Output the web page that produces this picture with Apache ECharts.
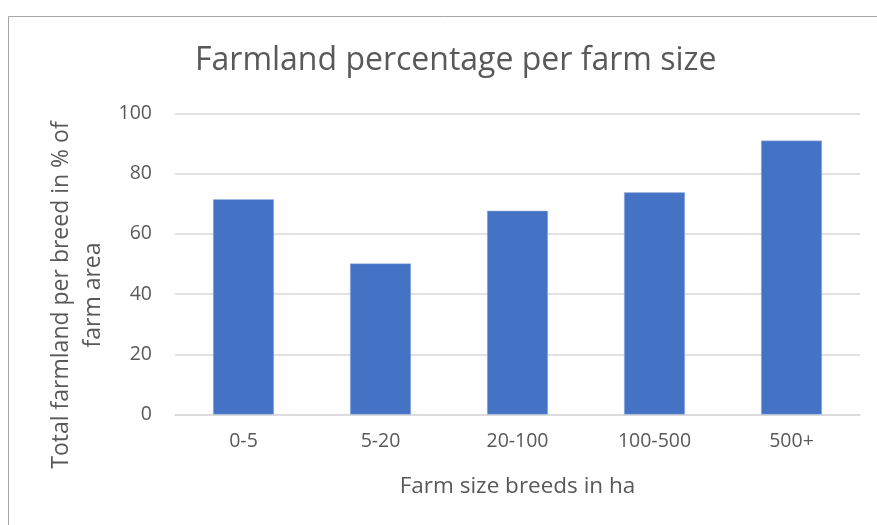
<!DOCTYPE html>
<html><head><meta charset="utf-8">
<script src="https://cdn.jsdelivr.net/npm/echarts@6/dist/echarts.min.js"></script>
<style>html,body{margin:0;padding:0;background:#fff}#c{width:877px;height:525px}</style>
</head><body><div id="c"></div>
<script>
const categories = ['0-5', '5-20', '20-100', '100-500', '500+'];
const values = [71.5, 50.2, 67.7, 73.8, 91.0];
const yTicks = [0, 20, 40, 60, 80, 100];
const titleText = 'Farmland percentage per farm size';
const xName = 'Farm size breeds in ha';
const yName = 'Total farmland per breed in % of\nfarm area';

const FONT = 'Open Sans';
const chart = echarts.init(document.getElementById('c'));
chart.setOption({
  backgroundColor: '#fff',
  animation: false,
  graphic: [{
    type: 'rect', left: 6, top: 14,
    shape: { width: 900, height: 600 },
    style: { fill: 'none', stroke: '#a6a6a6', lineWidth: 1 }
  }, {
    type: 'text', x: 77, y: 295, rotation: Math.PI / 2,
    style: {
      text: yName, textAlign: 'center', textVerticalAlign: 'middle',
      fontFamily: FONT, fontSize: 23, lineHeight: 32, fill: '#595959'
    }
  }],
  title: {
    text: titleText, left: 190, top: 40,
    textStyle: { fontFamily: FONT, fontSize: 32, fontWeight: 'normal', color: '#595959' }
  },
  grid: { left: 175, right: 17, top: 113.5, bottom: 110.5 },
  xAxis: {
    type: 'category', data: categories,
    axisLine: { lineStyle: { color: '#d9d9d9', width: 1.5 } },
    axisTick: { show: false },
    axisLabel: { fontFamily: FONT, fontSize: 19.5, color: '#595959', margin: 17 },
    name: xName, nameLocation: 'middle', nameGap: 61,
    nameTextStyle: { fontFamily: FONT, fontSize: 22.5, color: '#595959' }
  },
  yAxis: {
    type: 'value', min: yTicks[0], max: yTicks[yTicks.length - 1], interval: 20,
    axisLine: { show: false }, axisTick: { show: false },
    splitLine: { lineStyle: { color: '#d9d9d9', width: 1.5 } },
    axisLabel: { fontFamily: FONT, fontSize: 19.5, color: '#595959', margin: 23 }
  },
  series: [{
    type: 'bar', data: values, barWidth: '44.5%',
    itemStyle: { color: '#4472C4', borderColor: '#a9bde6', borderWidth: 0.5 }
  }]
});
</script></body></html>
